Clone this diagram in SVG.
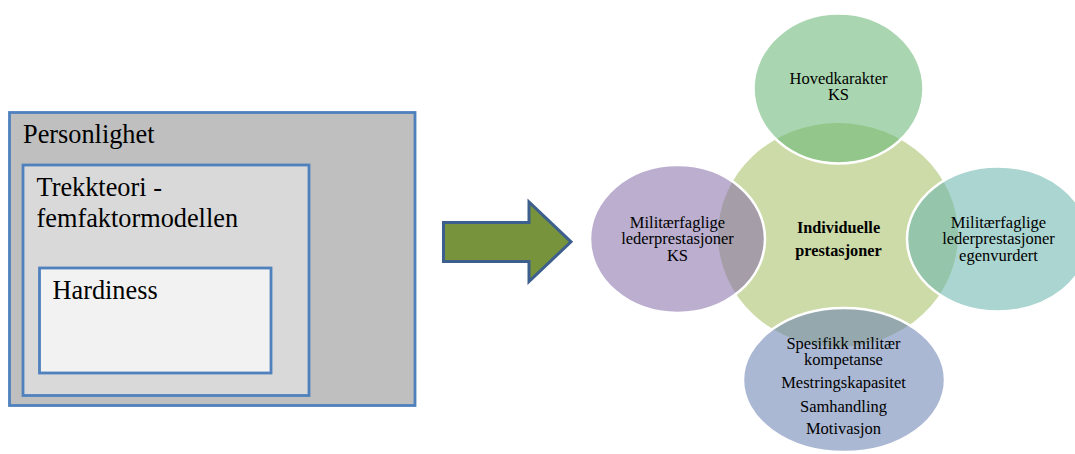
<svg xmlns="http://www.w3.org/2000/svg" width="1075" height="454" viewBox="0 0 1075 454">
<style>
.box{stroke:#4F81BD;stroke-width:2.8}
.lt{font-family:"Liberation Serif","Times New Roman","DejaVu Serif",serif;font-size:26.3px;fill:#000}
.rt{font-family:"Liberation Serif","Times New Roman","DejaVu Serif",serif;font-size:16.5px;fill:#000;text-anchor:middle}
.bt{font-weight:bold;font-size:16.3px}
.sat{fill-opacity:0.56;stroke:#FFFFFF;stroke-width:2.5}
</style>
<rect width="1075" height="454" fill="#FFFFFF"/>
<g id="personlighet">
<rect class="box" x="9.5" y="112.5" width="405.5" height="293" fill="#BFBFBF"/>
<text class="lt" x="23" y="142.5">Personlighet</text>
</g>
<g id="trekkteori">
<rect class="box" x="23" y="165" width="286" height="230.5" fill="#D9D9D9"/>
<text class="lt" x="36.5" y="195.5">Trekkteori -</text>
<text class="lt" x="36.5" y="226.5">femfaktormodellen</text>
</g>
<g id="hardiness">
<rect class="box" x="39.5" y="268" width="231.5" height="105" fill="#F2F2F2"/>
<text class="lt" x="52.5" y="298.5">Hardiness</text>
</g>
<g id="connectors">
<path d="M443.5,222.5 H529 V202 L571,241.8 L529,281.5 V261.5 H443.5 Z" fill="#77933C" stroke="#3D5F8E" stroke-width="3" stroke-linejoin="miter"/>
</g>
<g id="individuelle">
<ellipse cx="838" cy="235" rx="120" ry="112" fill="#CDDBA8"/>
<text class="rt bt" x="838.5" y="232.5">Individuelle</text>
<text class="rt bt" x="838.5" y="256">prestasjoner</text>
</g>
<g id="hovedkarakter">
<ellipse class="sat" cx="838.5" cy="88.5" rx="85" ry="75" fill="#66B672"/>
<text class="rt" x="838.5" y="83.5">Hovedkarakter</text>
<text class="rt" x="838.5" y="100">KS</text>
</g>
<g id="militaer-ks">
<ellipse class="sat" cx="677.5" cy="239" rx="87.5" ry="74" fill="#866FAA"/>
<text class="rt" x="677.5" y="227.5">Militærfaglige</text>
<text class="rt" x="677.5" y="244.2">lederprestasjoner</text>
<text class="rt" x="677.5" y="261">KS</text>
</g>
<g id="militaer-egen">
<ellipse class="sat" cx="998" cy="239" rx="91" ry="72.5" fill="#69B4AB"/>
<text class="rt" x="998.5" y="227.5">Militærfaglige</text>
<text class="rt" x="998.5" y="244.2">lederprestasjoner</text>
<text class="rt" x="998.5" y="261">egenvurdert</text>
</g>
<g id="kompetanse">
<ellipse class="sat" cx="844" cy="380" rx="101" ry="72" fill="#6981B1"/>
<text class="rt" x="843.5" y="348.5">Spesifikk militær</text>
<text class="rt" x="843.5" y="364.5">kompetanse</text>
<text class="rt" x="843.5" y="388">Mestringskapasitet</text>
<text class="rt" x="843.5" y="411.5">Samhandling</text>
<text class="rt" x="843.5" y="433.5">Motivasjon</text>
</g>
</svg>
